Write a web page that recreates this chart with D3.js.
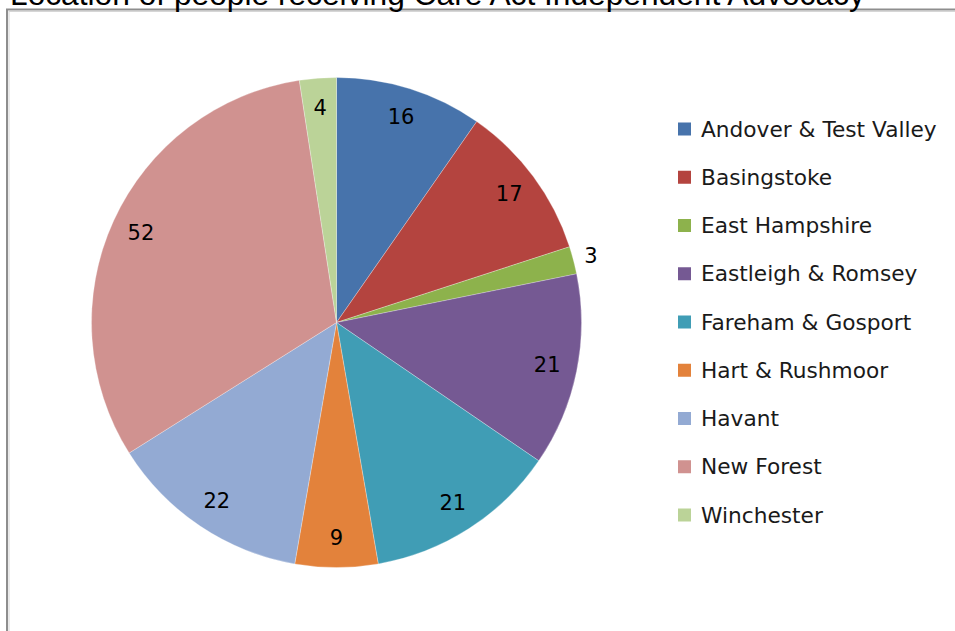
<!DOCTYPE html>
<html>
<head>
<meta charset="utf-8">
<script src="https://cdn.jsdelivr.net/npm/d3@7"></script>
<style>
  body { margin: 0; background: #fff; }
  svg { display: block; }
</style>
</head>
<body>
<div id="chart"></div>
<script>
// Chart data
var areas = ["Andover & Test Valley", "Basingstoke", "East Hampshire", "Eastleigh & Romsey",
             "Fareham & Gosport", "Hart & Rushmoor", "Havant", "New Forest", "Winchester"];
var counts = [16, 17, 3, 21, 21, 9, 22, 52, 4];
var colours = ["#4773ab", "#b4443f", "#8db24c", "#755993", "#409db5", "#e3823b",
               "#93aad3", "#d09290", "#bbd398"];
var titleText = "Location of people receiving Care Act Independent Advocacy";

var width = 955, height = 631;
var cx = 336.5, cy = 322.5, radius = 245;

var svg = d3.select("#chart").append("svg")
    .attr("width", width)
    .attr("height", height);

// Chart frame (runs off the right and bottom edges)
svg.append("rect")
    .attr("x", 7).attr("y", 9.5)
    .attr("width", 1000).attr("height", 700)
    .attr("fill", "none")
    .attr("stroke", "#8e8e8e")
    .attr("stroke-width", 2);
svg.append("rect")
    .attr("x", 9).attr("y", 11.5)
    .attr("width", 1000).attr("height", 700)
    .attr("fill", "none")
    .attr("stroke", "#d6d6d6")
    .attr("stroke-width", 1);

// Title, cut off at the top as in the source image
var title = svg.append("text")
    .attr("x", 10)
    .attr("y", 5)
    .attr("font-family", "Liberation Sans, Arial, sans-serif")
    .attr("font-size", "100px")
    .attr("fill", "#000")
    .text(titleText);
var tw = title.node().getComputedTextLength();
title.attr("font-size", (100 * 855 / tw) + "px");

// Pie
var data = areas.map(function (a, i) {
    return { area: a, count: counts[i], colour: colours[i] };
});

var pie = d3.pie()
    .value(function (d) { return d.count; })
    .sort(null);

var arc = d3.arc()
    .innerRadius(0)
    .outerRadius(radius);

var g = svg.append("g")
    .attr("transform", "translate(" + cx + "," + cy + ")");

var arcs = pie(data);

g.selectAll(".slice")
    .data(arcs)
    .enter().append("path")
    .attr("class", "slice")
    .attr("d", arc)
    .attr("fill", function (d) { return d.data.colour; })
    .attr("stroke", "rgba(255,255,255,0.35)")
    .attr("stroke-width", 0.8);

// Data labels: inside, except very thin slices which go outside
var labelArcIn = d3.arc().innerRadius(215).outerRadius(215);
var labelArcOut = d3.arc().innerRadius(263).outerRadius(263);

g.selectAll(".label")
    .data(arcs)
    .enter().append("text")
    .attr("class", "label")
    .attr("transform", function (d) {
        var c = d.data.count < 4 ? labelArcOut.centroid(d) : labelArcIn.centroid(d);
        return "translate(" + c[0] + "," + c[1] + ")";
    })
    .attr("text-anchor", "middle")
    .attr("dominant-baseline", "central")
    .attr("font-family", "DejaVu Sans, sans-serif")
    .attr("font-size", "21px")
    .attr("fill", "#000")
    .text(function (d) { return d.data.count; });

// Legend
var legend = svg.append("g")
    .attr("transform", "translate(678, 129)");

var legendRow = legend.selectAll(".legend-row")
    .data(data)
    .enter().append("g")
    .attr("class", "legend-row")
    .attr("transform", function (d, i) { return "translate(0," + (i * 48.25) + ")"; });

legendRow.append("rect")
    .attr("x", 0)
    .attr("y", -6.5)
    .attr("width", 13)
    .attr("height", 13)
    .attr("fill", function (d) { return d.colour; });

legendRow.append("text")
    .attr("x", 23)
    .attr("y", 0)
    .attr("dominant-baseline", "central")
    .attr("font-family", "DejaVu Sans, sans-serif")
    .attr("font-size", "21.7px")
    .attr("fill", "#1a1a1a")
    .text(function (d) { return d.area; });
</script>
</body>
</html>
